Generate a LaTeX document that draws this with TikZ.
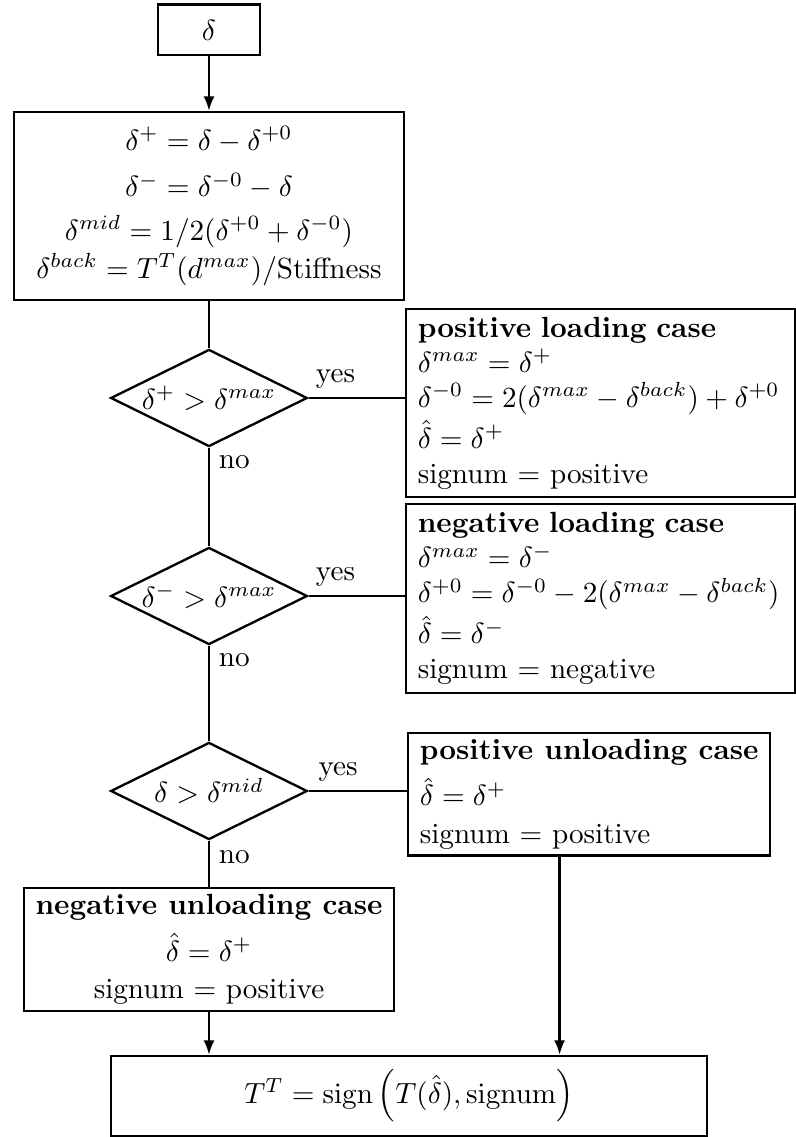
\documentclass[tikz,border=0pt]{standalone}
\usepackage{amsmath,amssymb}
\usetikzlibrary{shapes.geometric, positioning, arrows.meta, calc}

\begin{document}
\begin{tikzpicture}[
        line width=0.8pt,
        block/.style={rectangle, draw, align=center, inner sep=4pt},
        casebox/.style={rectangle, draw, align=left, anchor=north west,
                        inner xsep=4pt, inner ysep=2pt},
        decision/.style={diamond, draw, aspect=2, inner sep=0pt,
                         minimum width=2.37cm, minimum height=1.17cm},
        flow/.style={-{Latex[length=5pt, width=3.8pt]}},
        lbl/.style={inner sep=3pt}
    ]
    \useasboundingbox (-2.518, 0) rectangle (7.07, -13.699);

    % Input and preprocessing
    \node[block, minimum width=1.23cm, minimum height=0.61cm] (in) at (0, -0.361) {$\delta$};
    \node[block, minimum width=4.70cm, minimum height=2.265cm] (pre) at (0, -2.482) {%
        $\delta^{+} = \delta - \delta^{+0}$\\[4pt]
        $\delta^{-} = \delta^{-0} - \delta$\\[3pt]
        $\delta^{mid} = 1/2(\delta^{+0} + \delta^{-0})$\\[1pt]
        $\delta^{back} = T^{T}(d^{max})/\mathrm{Stiffness}$};

    % Decisions
    \node[decision] (dpos) at (0, -4.795) {$\delta^{+} > \delta^{max}$};
    \node[decision] (dneg) at (0, -7.181) {$\delta^{-} > \delta^{max}$};
    \node[decision] (dmid) at (0, -9.530) {$\delta > \delta^{mid}$};

    % Cases
    \node[casebox, text width=4.41cm, minimum height=2.265cm] (posload) at (2.361, -3.711) {%
        \textbf{positive loading case}\\
        $\delta^{max} = \delta^{+}$\\
        $\delta^{-0} = 2(\delta^{max} - \delta^{back}) + \delta^{+0}$\\[1pt]
        $\hat{\delta} = \delta^{+}$\\
        signum $=$ positive};
    \node[casebox, text width=4.41cm, minimum height=2.277cm] (negload) at (2.361, -6.060) {%
        \textbf{negative loading case}\\
        $\delta^{max} = \delta^{-}$\\
        $\delta^{+0} = \delta^{-0} - 2(\delta^{max} - \delta^{back})$\\[1pt]
        $\hat{\delta} = \delta^{-}$\\
        signum $=$ negative};
    \node[casebox, minimum width=4.325cm, minimum height=1.446cm] (posunload) at (2.386, -8.819) {%
        \textbf{positive unloading case}\\[4pt]
        $\hat{\delta} = \delta^{+}$\\[1pt]
        signum $=$ positive};
    \node[block, inner ysep=2pt, minimum width=4.31cm, minimum height=1.458cm] (negunload) at (0, -11.440) {%
        \textbf{negative unloading case}\\[4pt]
        $\hat{\delta} = \delta^{+}$\\[1pt]
        signum $=$ positive};

    % Output
    \node[block, minimum width=7.18cm, minimum height=0.964cm] (final) at (2.410, -13.205)
        {$T^{T} = \mathrm{sign}\left(T(\hat{\delta}), \mathrm{signum}\right)$};

    % Connectors
    \draw[flow] (in) -- (pre);
    \draw (pre) -- (dpos);
    \draw (dpos.east) -- node[lbl, above, pos=0.28] {yes} (dpos.east -| posload.west);
    \draw (dpos) -- node[lbl, right, pos=0.15] {no} (dneg);
    \draw (dneg.east) -- node[lbl, above, pos=0.28] {yes} (dneg.east -| negload.west);
    \draw (dneg) -- node[lbl, right, pos=0.15] {no} (dmid);
    \draw (dmid.east) -- node[lbl, above, pos=0.3] {yes} (dmid.east -| posunload.west);
    \draw (dmid) -- node[lbl, right, pos=0.35] {no} (negunload);
    \draw[flow] (negunload) -- (negunload |- final.north);
    \draw[flow] ([xshift=-0.356cm]posunload.south) -- ([xshift=-0.356cm]posunload.south |- final.north);
\end{tikzpicture}
\end{document}
